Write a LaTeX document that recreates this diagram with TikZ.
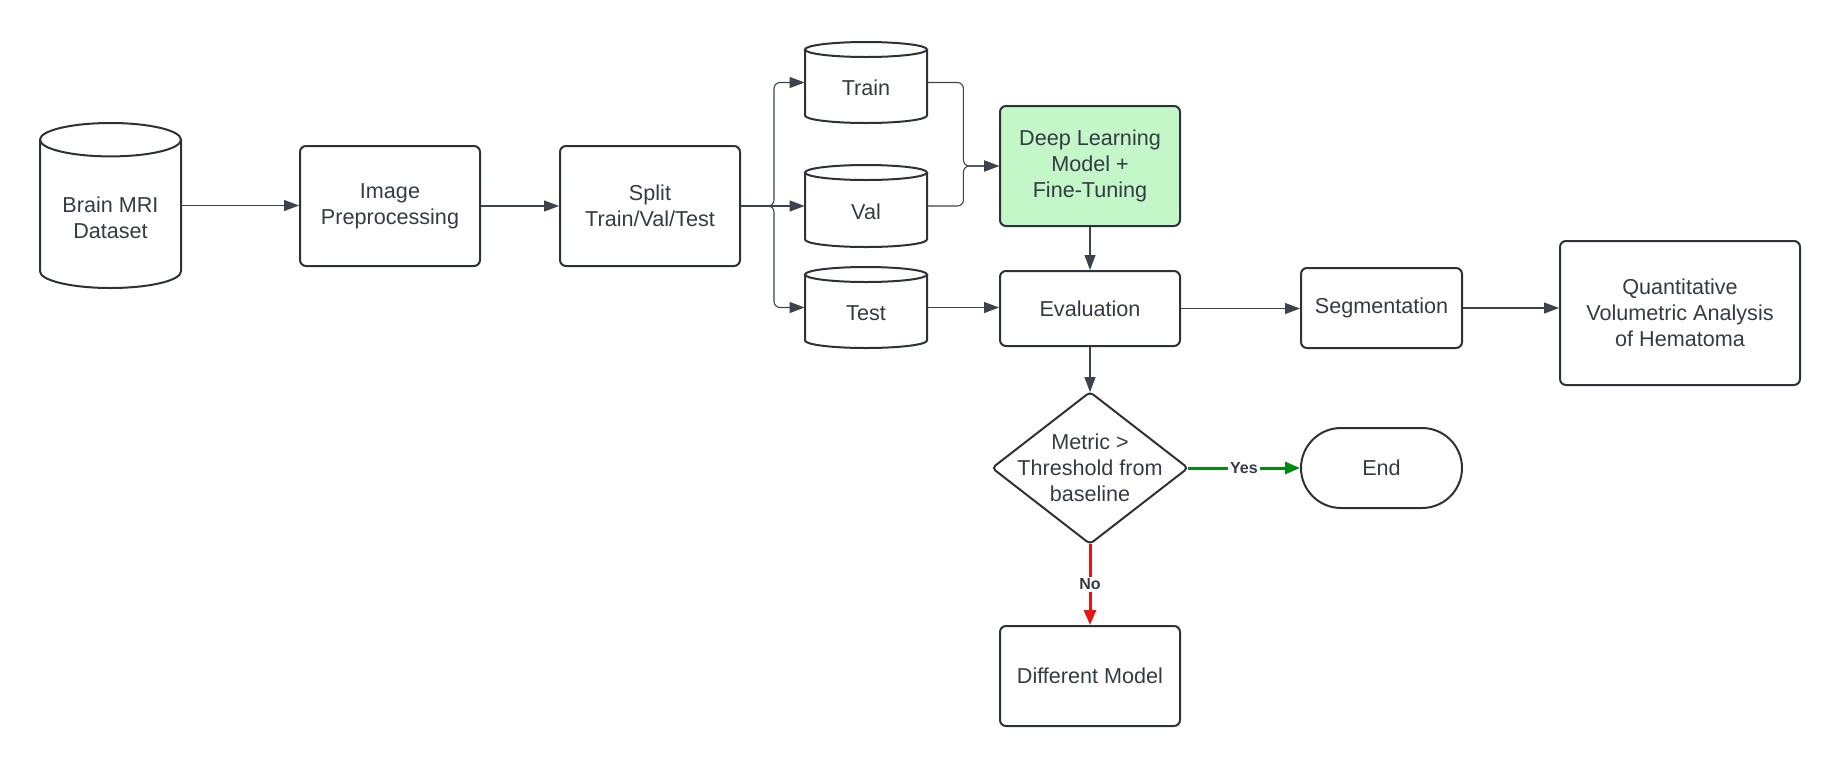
\documentclass[tikz,border=0pt]{standalone}
\usepackage{fontspec}
\setmainfont{Liberation Sans}
\usetikzlibrary{arrows.meta,shapes.geometric,calc}
\definecolor{txtc}{HTML}{353B45}
\definecolor{linec}{HTML}{2E3238}
\definecolor{connc}{HTML}{3D434D}
\definecolor{dlfill}{HTML}{C3F7C8}
\definecolor{yesc}{HTML}{008A0E}
\definecolor{noc}{HTML}{E81313}
\newcommand\mycyl[7]{% name, x1, y1, x2, y2, ry, text
  \pgfmathsetmacro\cylcx{(#2+#4)/2}
  \pgfmathsetmacro\cylcy{(#3+#5)/2}
  \pgfmathsetmacro\cylrx{(#4-#2)/4}
  \pgfmathsetmacro\cylry{#6/2}
  \pgfmathsetmacro\cylw{(#4-#2)/2}
  \pgfmathsetmacro\cylh{(#5-#3)/2}
  \pgfmathsetmacro\cylty{(#3+1.5*#6+#5)/2}
  \pgfmathsetmacro\cylya{#3+#6}
  \pgfmathsetmacro\cylyb{#5-#6}
  \node[cylnode, minimum width=\cylw pt, minimum height=\cylh pt] (#1) at (\cylcx,\cylcy) {};
  \draw[boxline] (#2,\cylya) -- (#2,\cylyb) arc[start angle=180, end angle=360, x radius=\cylrx pt, y radius=\cylry pt] -- (#4,\cylya);
  \draw[boxline] (\cylcx,\cylya) ellipse[x radius=\cylrx pt, y radius=\cylry pt];
  \node[txt] at (\cylcx,\cylty) {#7};
}
\tikzset{
  txt/.style={text=txtc, font=\fontsize{10.8}{13}\selectfont, align=center, inner sep=0pt},
  boxline/.style={draw=linec, line width=1pt},
  cylnode/.style={draw=none, inner sep=0pt},
  box/.style={rectangle, boxline, rounded corners=3pt, txt, inner sep=0pt},
  conn/.style={draw=connc, line width=0.55pt, rounded corners=3pt, -{Triangle[length=7.5pt,width=5.5pt]}},
  yesline/.style={draw=yesc, line width=1.5pt, -{Triangle[length=7.5pt,width=6pt]}},
  noline/.style={draw=noc, line width=1.5pt, -{Triangle[length=7.5pt,width=6pt]}},
  lbl/.style={fill=white, text=txtc, font=\fontsize{8}{9}\selectfont\bfseries, inner sep=1pt}
}
\begin{document}
\begin{tikzpicture}[x=0.5pt,y=-0.5pt]
\useasboundingbox (0,0) rectangle (1840,766);
\fill[white] (0,0) rectangle (1840,766);

\mycyl{brain}{40}{123}{181}{288}{16.7}{Brain MRI\\Dataset}
\node[box, minimum width=90pt, minimum height=60pt] (prep) at (390,206) {Image\\Preprocessing};
\node[box, minimum width=90pt, minimum height=60pt] (split) at (650,206) {Split\\Train/Val/Test};
\mycyl{train}{805}{42}{927}{123}{7.5}{Train}
\mycyl{val}{805}{165}{927}{247}{7.5}{Val}
\mycyl{test}{805}{267}{927}{348}{7.5}{Test}
\node[box, fill=dlfill, minimum width=90pt, minimum height=60pt] (dl) at (1090,166) {Deep Learning\\Model +\\Fine-Tuning};
\node[box, minimum width=90pt, minimum height=37.5pt] (eval) at (1090,308.5) {Evaluation};
\node[box, minimum width=80.5pt, minimum height=40pt] (seg) at (1381.5,308) {Segmentation};
\node[box, minimum width=120pt, minimum height=72pt] (quant) at (1680,313) {Quantitative\\Volumetric Analysis\\of Hematoma};
\node[txt, minimum width=97.5pt, minimum height=75.5pt] (dec) at (1090,468) {Metric >\\Threshold from\\baseline};
\draw[boxline, rounded corners=2pt] (dec.north) -- (dec.east) -- (dec.south) -- (dec.west) -- cycle;
\node[box, rounded corners=20pt, minimum width=80.5pt, minimum height=40pt] (end) at (1381.5,468) {End};
\node[box, minimum width=90pt, minimum height=50pt] (diff) at (1090,676) {Different Model};

\draw[conn] (brain.east) -- (brain.east -| prep.west);
\draw[conn] (prep.east) -- (split.west);
\draw[conn] (split.east) -- ++(33,0) |- (train.west);
\draw[conn] (split.east) -- (val.west);
\draw[conn] (split.east) -- ++(33,0) |- (test.west);
\draw[conn] (train.east) -- ++(36,0) |- (dl.west);
\draw[conn] (val.east) -- ++(36,0) |- (dl.west);
\draw[conn] (dl.south) -- (eval.north);
\draw[conn] (test.east) -- (test.east -| eval.west);
\draw[conn] (eval.east) -- (eval.east -| seg.west);
\draw[conn] (seg.east) -- (seg.east -| quant.west);
\draw[conn] (eval.south) -- (dec.north);
\draw[yesline] (dec.east) -- node[lbl] {Yes} (end.west);
\draw[noline] (dec.south) -- node[lbl] {No} (diff.north);
\end{tikzpicture}
\end{document}
